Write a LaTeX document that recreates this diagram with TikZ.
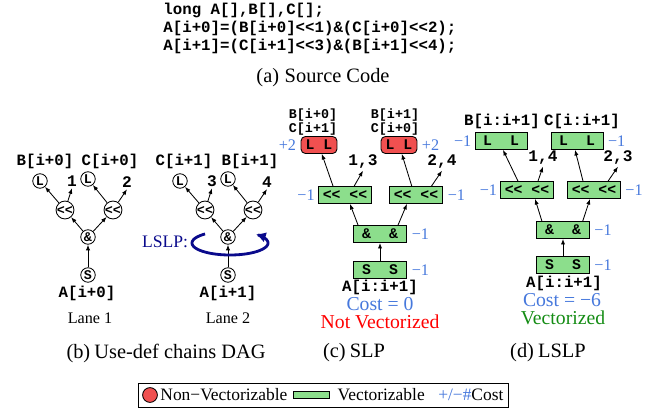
\documentclass[tikz,border=0pt]{standalone}
\usepackage{fontspec}
\setmainfont{Liberation Serif}
\setmonofont{Liberation Mono}
\usetikzlibrary{arrows.meta,positioning,fit}
\definecolor{vecgreen}{RGB}{140,222,140}
\definecolor{nvred}{RGB}{240,80,80}
\definecolor{costblue}{RGB}{70,120,220}
\definecolor{lslpblue}{RGB}{10,10,140}
\definecolor{okgreen}{RGB}{20,140,20}
\newcommand{\shl}{<\kern0pt<}

\begin{document}
\begin{tikzpicture}[x=0.025cm, y=-0.025cm,
  op/.style={circle, draw, fill=white, inner sep=0pt, minimum size=10.3pt,
             font=\fontsize{9.5}{10}\selectfont\ttfamily\bfseries},
  vbox/.style={rectangle, draw, fill=vecgreen, inner sep=0pt,
               minimum width=38pt, minimum height=12pt,
               font=\fontsize{10.5}{12}\selectfont\ttfamily\bfseries},
  nvbox/.style={vbox, fill=nvred, rounded corners=3pt, minimum width=25.5pt},
  code/.style={inner sep=0pt, font=\fontsize{11.2}{13}\selectfont\ttfamily\bfseries},
  small code/.style={inner sep=0pt, font=\fontsize{9.5}{11}\selectfont\ttfamily\bfseries},
  num/.style={inner sep=1pt, font=\fontsize{11.5}{12}\selectfont\ttfamily\bfseries},
  cost/.style={inner sep=0pt, text=costblue, font=\fontsize{11.5}{12}\selectfont},
  lane/.style={inner sep=0pt, font=\fontsize{11.5}{13}\selectfont},
  verdict/.style={inner sep=0pt, font=\fontsize{14}{16}\selectfont},
  subcap/.style={inner sep=0pt, font=\fontsize{14.5}{17}\selectfont},
  legtext/.style={inner sep=0pt, font=\fontsize{12.4}{14}\selectfont},
  >={Latex[length=4pt,width=3pt]}, line width=0.6pt
]
  \useasboundingbox (0,0) rectangle (651,408);

  % (a) source code
  \node[code, anchor=west] (decl)  at (163,10) {long A[],B[],C[];};
  \node[code, anchor=west] (stmt1) at (163,28) {A[i+0]=(B[i+0]\shl1)\&(C[i+0]\shl2);};
  \node[code, anchor=west] (stmt2) at (163,46) {A[i+1]=(C[i+1]\shl3)\&(B[i+1]\shl4);};
  \node[subcap] (capa) at (323,78) {(a)\hspace{4pt}Source Code};

  % (b) lane 1
  \node[code] (lblB0) at (45,161)  {B[i+0]};
  \node[code] (lblC0) at (110,161) {C[i+0]};
  \node[op]   (ld1a)  at (40,181)  {L};
  \node[num]  (n1)    at (72,181)  {1};
  \node[op]   (ld1b)  at (88,179)  {L};
  \node[num]  (n2)    at (127,182) {2};
  \node[op]   (sh1a)  at (65,210)  {\shl};
  \node[op]   (sh1b)  at (113,210) {\shl};
  \node[op]   (and1)  at (88,237)  {\&};
  \node[op]   (st1)   at (88,275)  {S};
  \node[code] (a0)    at (87,293)  {A[i+0]};
  \node[lane] (lane1) at (90,318)  {Lane 1};

  \draw[->] (sh1a) -- (ld1a);
  \draw[->] (sh1a) -- (n1.south);
  \draw[->] (sh1b) -- (ld1b);
  \draw[->] (sh1b) -- (n2.south);
  \draw[->] (and1) -- (sh1a);
  \draw[->] (and1) -- (sh1b);
  \draw[->] (st1) -- (and1);

  % (b) lane 2
  \node[code] (lblC1) at (184,161) {C[i+1]};
  \node[code] (lblB1) at (250,161) {B[i+1]};
  \node[op]   (ld2a)  at (180,181) {L};
  \node[num]  (n3)    at (212,181) {3};
  \node[op]   (ld2b)  at (228,179) {L};
  \node[num]  (n4)    at (267,182) {4};
  \node[op]   (sh2a)  at (205,210) {\shl};
  \node[op]   (sh2b)  at (253,210) {\shl};
  \node[op]   (and2)  at (228,237) {\&};
  \node[op]   (st2)   at (228,275) {S};
  \node[code] (a1)    at (228,293) {A[i+1]};
  \node[lane] (lane2) at (228,318) {Lane 2};

  \draw[->] (sh2a) -- (ld2a);
  \draw[->] (sh2a) -- (n3.south);
  \draw[->] (sh2b) -- (ld2b);
  \draw[->] (sh2b) -- (n4.south);
  \draw[->] (and2) -- (sh2a);
  \draw[->] (and2) -- (sh2b);
  \draw[->] (st2) -- (and2);

  % LSLP reordering
  \node[inner sep=0pt, text=lslpblue, font=\fontsize{12.5}{14}\selectfont] (lslp) at (165,242) {LSLP:};
  \draw[lslpblue, line width=2pt, -{Latex[length=7pt,width=7.5pt]}]
    plot[domain=229:-47, samples=60] ({230+38*cos(\x)}, {243+12*sin(\x)});

  \node[subcap] (capb) at (166,353) {(b)\hspace{3pt}Use-def chains DAG};

  % (c) SLP
  \node[small code] (slpB0) at (313,115) {B[i+0]};
  \node[small code] (slpC1) at (313,129) {C[i+1]};
  \node[small code] (slpB1) at (395,115) {B[i+1]};
  \node[small code] (slpC0) at (395,129) {C[i+0]};
  \node[nvbox] (slpL1) at (319,145) {L L};
  \node[nvbox] (slpL2) at (399,145) {L L};
  \node[cost, left=3pt of slpL1]  (slpc1) {+2};
  \node[cost, right=3pt of slpL2] (slpc2) {+2};
  \node[num] (n13) at (363,162) {1,3};
  \node[num] (n24) at (442,162) {2,4};
  \node[vbox] (slpSh1) at (345,195) {\shl{} \shl};
  \node[vbox] (slpSh2) at (416,195) {\shl{} \shl};
  \node[cost, left=2pt of slpSh1]  (slpc3) {−1};
  \node[cost, right=3pt of slpSh2] (slpc4) {−1};
  \node[vbox] (slpAnd) at (380,234) {\&\hspace{13pt}\&};
  \node[cost, right=3pt of slpAnd] (slpc5) {−1};
  \node[vbox] (slpSt) at (380,270) {S\hspace{13pt}S};
  \node[cost, right=3pt of slpSt] (slpc6) {−1};
  \node[code] (slpA) at (380,287) {A[i:i+1]};
  \node[verdict, text=costblue] (slpCost) at (380,304) {Cost = 0};
  \node[verdict, text=red] (slpVerdict) at (380,322) {Not Vectorized};

  \draw[->] ([xshift=-8.5pt]slpSh1.north) -- ([xshift=2pt]slpL1.south);
  \draw[->] ([xshift=6.5pt]slpSh1.north) -- (n13.south);
  \draw[->] ([xshift=-3pt]slpSh2.north) -- ([xshift=2pt]slpL2.south);
  \draw[->] ([xshift=11pt]slpSh2.north) -- (n24.south);
  \draw[->] ([xshift=-15.6pt]slpAnd.north) -- ([xshift=3.5pt]slpSh1.south);
  \draw[->] ([xshift=12.8pt]slpAnd.north) -- ([xshift=-6.4pt]slpSh2.south);
  \draw[->] (slpSt) -- (slpAnd);

  \node[subcap] (capc) at (354,353) {(c)\hspace{3pt}SLP};

  % (d) LSLP
  \node[code] (lslpB) at (502,121) {B[i:i+1]};
  \node[code] (lslpC) at (582,121) {C[i:i+1]};
  \node[vbox, minimum width=37pt] (lslpL1) at (501,141) {L\hspace{13pt}L};
  \node[vbox, minimum width=37pt] (lslpL2) at (577,141) {L\hspace{13pt}L};
  \node[cost, left=2pt of lslpL1]  (lslpc1) {−1};
  \node[cost, right=3pt of lslpL2] (lslpc2) {−1};
  \node[num] (n14) at (543,158) {1,4};
  \node[num] (n23) at (618,158) {2,3};
  \node[vbox, minimum width=37.5pt] (lslpSh1) at (527,190) {\shl{} \shl};
  \node[vbox, minimum width=37.5pt] (lslpSh2) at (594,190) {\shl{} \shl};
  \node[cost, left=2pt of lslpSh1]  (lslpc3) {−1};
  \node[cost, right=3pt of lslpSh2] (lslpc4) {−1};
  \node[vbox, minimum width=37.5pt] (lslpAnd) at (563,230) {\&\hspace{13pt}\&};
  \node[cost, right=3pt of lslpAnd] (lslpc5) {−1};
  \node[vbox, minimum width=37.5pt] (lslpSt) at (563,265) {S\hspace{13pt}S};
  \node[cost, right=3pt of lslpSt] (lslpc6) {−1};
  \node[code] (lslpA) at (564,283) {A[i:i+1]};
  \node[verdict, text=costblue] (lslpCost) at (562,300) {Cost = −6};
  \node[verdict, text=okgreen] (lslpVerdict) at (563,318) {Vectorized};

  \draw[->] ([xshift=-6.4pt]lslpSh1.north) -- ([xshift=1.4pt]lslpL1.south);
  \draw[->] ([xshift=7.8pt]lslpSh1.north) -- (n14.south);
  \draw[->] ([xshift=-7.8pt]lslpSh2.north) -- ([xshift=-1.4pt]lslpL2.south);
  \draw[->] ([xshift=10pt]lslpSh2.north) -- (n23.south);
  \draw[->] ([xshift=-15pt]lslpAnd.north) -- ([xshift=5.7pt]lslpSh1.south);
  \draw[->] ([xshift=14pt]lslpAnd.north) -- ([xshift=-2.8pt]lslpSh2.south);
  \draw[->] (lslpSt) -- (lslpAnd);

  \node[subcap] (capd) at (548,353) {(d)\hspace{3pt}LSLP};

  % legend
  \node[circle, draw, fill=nvred, inner sep=0pt, minimum size=10.5pt] (legRed) at (150,395) {};
  \node[legtext, anchor=west] (legNV) at (160,395) {Non−Vectorizable};
  \node[rectangle, draw, fill=vecgreen, inner sep=0pt, minimum width=25.5pt,
        minimum height=5pt, right=4pt of legNV] (legGreen) {};
  \node[legtext, right=5pt of legGreen] (legV) {Vectorizable};
  \node[legtext, right=9pt of legV] (legCost) {\textcolor{costblue}{+/−\#}Cost};
  \node[draw, inner xsep=3pt, inner ysep=3pt, fit=(legRed)(legNV)(legCost)] (legend) {};
\end{tikzpicture}
\end{document}
